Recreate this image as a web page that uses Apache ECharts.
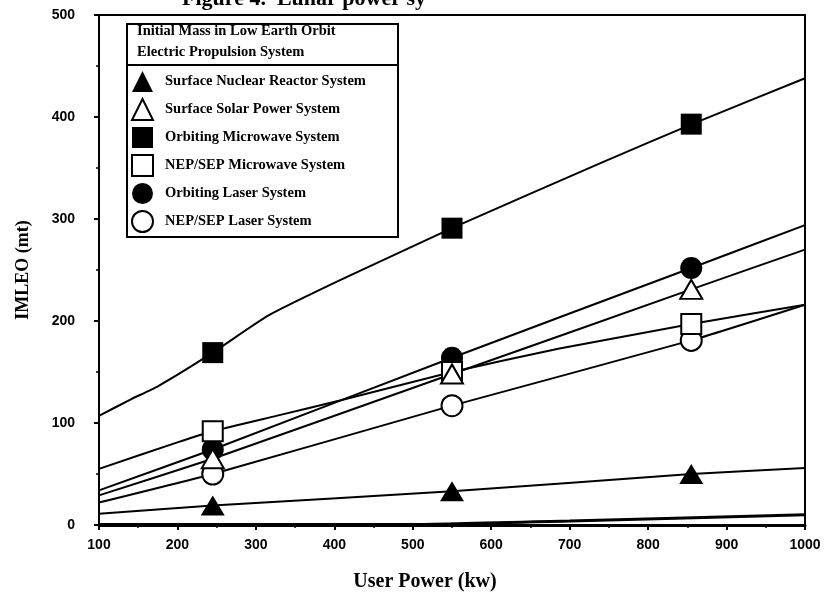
<!DOCTYPE html>
<html><head><meta charset="utf-8">
<script src="https://cdn.jsdelivr.net/npm/echarts@6/dist/echarts.min.js"></script>
<style>html,body{margin:0;padding:0;background:#fff}#c{width:838px;height:597px}</style>
</head><body><div id="c"></div>
<script>
// ---- data ----
const titleText = 'Figure 4.  Lunar power sy';
const legendHeader = ['Initial Mass in Low Earth Orbit', 'Electric Propulsion System'];
const seriesNames = [
  'Surface Nuclear Reactor System',
  'Surface Solar Power System',
  'Orbiting Microwave System',
  'NEP/SEP Microwave System',
  'Orbiting Laser System',
  'NEP/SEP Laser System'
];
const markerX = [245, 550, 855];
const nuclearMarks   = [19, 33, 50];
const solarMarks     = [65, 148, 231];
const orbMicroMarks  = [169, 291, 393];
const nepMicroMarks  = [92, 150, 197];
const orbLaserMarks  = [74, 164, 252];
const nepLaserMarks  = [50, 117, 181];

const nuclearCurve  = [[100,11],[245,19],[550,33],[855,50],[1000,56]];
const solarCurve    = [[100,29],[245,65],[550,148],[855,231],[1000,270]];
const orbMicroCurve = [[100,107],[140,123],[175,136],[245,169],[315,205],[410,241],[550,291],[740,355],[856,393],[1000,438]];
const nepMicroCurve = [[100,55],[200,81],[245,92],[326,107],[407,122],[550,150],[687,173],[855,197],[1000,216]];
const orbLaserCurve = [[100,34],[245,74],[550,164],[855,252],[1000,294]];
const nepLaserCurve = [[100,22],[245,50],[550,117],[855,181],[1000,216]];
const baselineCurve = [[100,0.5],[500,0.5],[700,4],[1000,10]];

const xTicks = {min: 100, max: 1000, interval: 100};
const yTicks = {min: 0, max: 500, interval: 100};

// ---- build ----
const serif = '"Liberation Serif", "Times New Roman", serif';
const sans = '"Liberation Sans", Arial, sans-serif';
function pts(xs, ys){ return xs.map((x,i)=>[x, ys[i]]); }
function line(data, w){
  return {type:'line', data, symbol:'none', smooth:0.15, silent:true,
    lineStyle:{color:'#000', width:w||2}, z:2, legendHoverLink:false};
}
const filled = {color:'#000', opacity:1};
const open = {color:'#fff', borderColor:'#000', borderWidth:2, opacity:1};
function marks(name, ys, symbol, size, style, z){
  return {type:'scatter', name, data: pts(markerX, ys), symbol, symbolSize:size,
    itemStyle:style, z};
}
const chart = echarts.init(document.getElementById('c'), null, {renderer:'canvas'});
chart.setOption({
  animation:false,
  backgroundColor:'#fff',
  title:{text:titleText, left:177, top:-17,
    textStyle:{fontFamily:serif, fontWeight:'bold', fontSize:22, color:'#000'}},
  grid:{left:99, right:33, top:15, bottom:71, show:true, borderColor:'#000', borderWidth:2},
  xAxis:{type:'value', min:xTicks.min, max:xTicks.max, interval:xTicks.interval,
    name:'User Power (kw)', nameLocation:'middle', nameGap:47,
    nameTextStyle:{fontFamily:serif, fontWeight:'bold', fontSize:20, color:'#000', padding:[0,54,0,0]},
    axisLine:{lineStyle:{color:'#000', width:3}},
    axisTick:{inside:false, length:5, lineStyle:{color:'#000', width:2}},
    minorTick:{show:true, splitNumber:2, length:3, lineStyle:{color:'#000', width:1.5}},
    splitLine:{show:false},
    axisLabel:{margin:13, fontFamily:sans, fontWeight:'bold', fontSize:14, color:'#000',
      formatter:v=>String(v)}},
  yAxis:{type:'value', min:yTicks.min, max:yTicks.max, interval:yTicks.interval,
    name:'IMLEO (mt)', nameLocation:'middle', nameGap:67,
    nameTextStyle:{fontFamily:serif, fontWeight:'bold', fontSize:18, color:'#000'},
    axisLine:{lineStyle:{color:'#000', width:2}},
    axisTick:{inside:false, length:5, lineStyle:{color:'#000', width:2}},
    minorTick:{show:true, splitNumber:2, length:3, lineStyle:{color:'#000', width:1.5}},
    splitLine:{show:false},
    axisLabel:{margin:24, fontFamily:sans, fontWeight:'bold', fontSize:14, color:'#000',
      formatter:v=>String(v)}},
  legend:{data:seriesNames, orient:'vertical', left:131, top:71, padding:0,
    itemWidth:21, itemHeight:21, itemGap:6, selectedMode:false,
    textStyle:{fontFamily:serif, fontWeight:'bold', fontSize:14.5, color:'#000', padding:[0,0,0,7]}},
  graphic:[
    {type:'rect', left:126, top:23, shape:{width:271, height:213}, z:100,
      style:{fill:'transparent', stroke:'#000', lineWidth:2}},
    {type:'line', z:100, shape:{x1:126, y1:65, x2:397, y2:65}, style:{stroke:'#000', lineWidth:2}},
    {type:'text', left:137, top:24, z:100, style:{text:legendHeader[0], fontFamily:serif, fontWeight:'bold', fontSize:14.5, fill:'#000'}},
    {type:'text', left:137, top:45, z:100, style:{text:legendHeader[1], fontFamily:serif, fontWeight:'bold', fontSize:14.5, fill:'#000'}}
  ],
  series:[
    line(baselineCurve, 3),
    line(nuclearCurve), line(solarCurve), line(orbMicroCurve),
    line(nepMicroCurve), line(orbLaserCurve), line(nepLaserCurve),
    marks(seriesNames[0], nuclearMarks, 'triangle', [24,20], filled, 5),
    marks(seriesNames[5], nepLaserMarks, 'circle', 21, open, 5),
    marks(seriesNames[2], orbMicroMarks, 'rect', 21, filled, 5),
    marks(seriesNames[4], orbLaserMarks, 'circle', 22, filled, 5),
    marks(seriesNames[3], nepMicroMarks, 'rect', 20, open, 6),
    marks(seriesNames[1], solarMarks, 'triangle', [22,19], open, 7)
  ]
});
</script></body></html>
